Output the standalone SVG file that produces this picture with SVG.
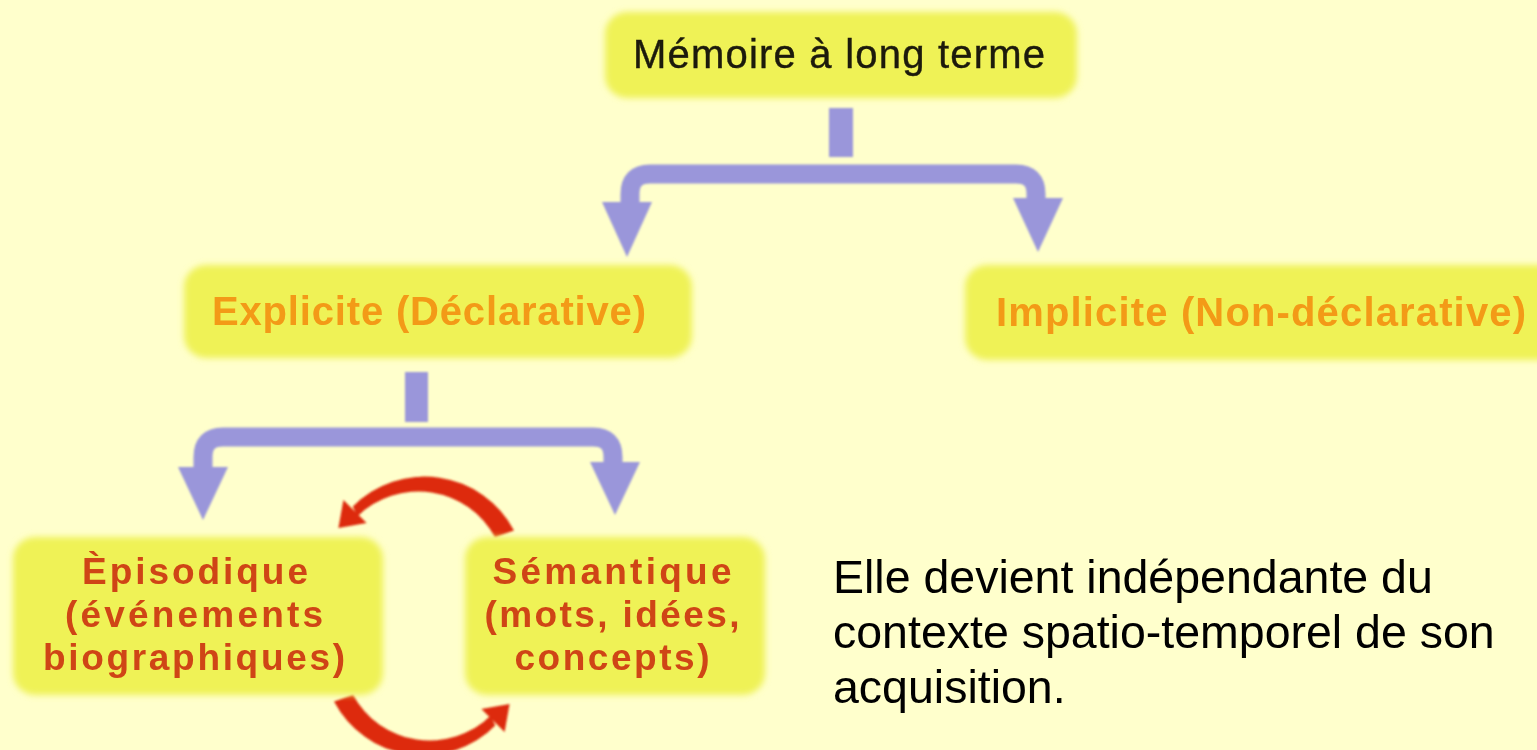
<svg xmlns="http://www.w3.org/2000/svg" xmlns:xlink="http://www.w3.org/1999/xlink" width="1537" height="750" viewBox="0 0 1537 750">
  <defs>
    <filter id="soft" x="-10%" y="-20%" width="120%" height="140%">
      <feGaussianBlur stdDeviation="3"/>
    </filter>
    <filter id="soft1" x="-10%" y="-10%" width="120%" height="120%">
      <feGaussianBlur stdDeviation="0.8"/>
    </filter>
    <g id="redArc">
      <path d="M 514 530.5 A 101 101 0 0 0 352.8 506.6 L 357.3 516.5 A 87 87 0 0 1 495 537.3 Z"/>
      <polygon points="343.4,499.9 366.6,523.1 338.4,528"/>
    </g>
    <style>
      .box { fill: #EFF257; filter: url(#soft); }
      .t { font-family: "Liberation Sans", Arial, sans-serif; text-anchor: middle; }
      .dark { fill: #1C1A0C; font-size: 40px; stroke: #1C1A0C; stroke-width: 0.4; }
      .orange { fill: #F39A17; font-size: 40px; font-weight: bold; }
      .red { fill: #CF4516; font-size: 37px; font-weight: bold; }
      .lav { fill: none; stroke: #9A96DA; stroke-width: 19; }
      .lavf { fill: #9A96DA; }
      .arc { fill: #DD2C0C; }
      .note { font-family: "Liberation Sans", Arial, sans-serif; font-size: 46.5px; fill: #000; }
    </style>
  </defs>
  <rect width="1537" height="750" fill="#FFFFCC"/>

  <g id="connectors" filter="url(#soft1)">
    <rect class="lavf" x="829" y="108" width="24" height="49"/>
    <path class="lav" d="M 630 206 V 194 Q 630 174 650 174 H 1016 Q 1036 174 1036 194 V 200"/>
    <polygon class="lavf" points="602,202 652,202 627,257"/>
    <polygon class="lavf" points="1013,198 1063,198 1038,252"/>

    <rect class="lavf" x="405" y="372" width="23" height="50"/>
    <path class="lav" d="M 203 470 V 457 Q 203 437 223 437 H 593 Q 613 437 613 457 V 465"/>
    <polygon class="lavf" points="178,467 228,467 203,520"/>
    <polygon class="lavf" points="590,462 640,462 615,515"/>

    <use xlink:href="#redArc" class="arc"/>
    <use xlink:href="#redArc" class="arc" transform="rotate(180 424 616)"/>
  </g>

  <g id="node-ltm">
    <rect class="box" x="605" y="12" width="472" height="86" rx="22"/>
    <text class="t dark" x="839" y="68" textLength="412">Mémoire à long terme</text>
  </g>
  <g id="node-explicite">
    <rect class="box" x="184" y="265" width="508" height="93" rx="22"/>
    <text class="t orange" x="429" y="325" textLength="434">Explicite (Déclarative)</text>
  </g>
  <g id="node-implicite">
    <rect class="box" x="965" y="265" width="600" height="95" rx="22"/>
    <text class="t orange" x="1261" y="326" textLength="530">Implicite (Non-déclarative)</text>
  </g>
  <g id="node-episodique">
    <rect class="box" x="13" y="537" width="370" height="158" rx="22"/>
    <text class="t red" x="195" y="584" textLength="226">Èpisodique</text>
    <text class="t red" x="194" y="627" textLength="258">(événements</text>
    <text class="t red" x="194" y="670" textLength="302">biographiques)</text>
  </g>
  <g id="node-semantique">
    <rect class="box" x="465" y="537" width="300" height="158" rx="22"/>
    <text class="t red" x="612" y="584" textLength="239">Sémantique</text>
    <text class="t red" x="612" y="627" textLength="255">(mots, idées,</text>
    <text class="t red" x="612" y="670" textLength="195">concepts)</text>
  </g>

  <g id="note">
    <text class="note" x="833" y="593">Elle devient indépendante du</text>
    <text class="note" x="833" y="648">contexte spatio-temporel de son</text>
    <text class="note" x="833" y="703">acquisition.</text>
  </g>
</svg>
